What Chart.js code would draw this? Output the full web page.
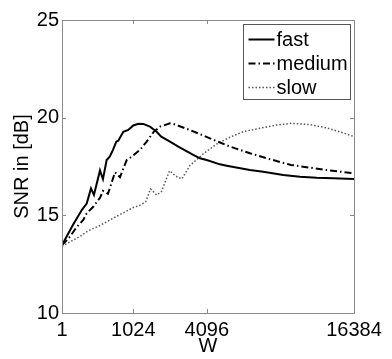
<!DOCTYPE html>
<html>
<head>
<meta charset="utf-8">
<script src="https://cdn.jsdelivr.net/npm/chart.js@4/dist/chart.umd.min.js"></script>
<style>
  html, body { margin: 0; padding: 0; background: #fff; }
  #wrap { width: 392px; height: 359px; }
</style>
</head>
<body>
<div id="wrap"><canvas id="c" width="392" height="359"></canvas></div>
<script>
// ---- data (W = window length, SNR in dB) ----
const seriesNames = ['fast', 'medium', 'slow'];

const fastW   = [1, 33, 92, 138, 185, 222, 307, 354, 417, 473, 537, 606, 649, 765, 890, 1024, 1168, 1321, 1541, 1778, 1950, 2300, 2660, 3374, 3721, 4085, 4858, 5272, 6846, 7836, 9452, 10916, 12486, 14151, 16384];
const fastSNR = [13.48, 14.5, 15.27, 15.6, 16.38, 16.04, 17.3, 16.85, 17.83, 18.0, 18.35, 18.77, 18.82, 19.28, 19.37, 19.6, 19.69, 19.68, 19.54, 19.28, 19.03, 18.77, 18.52, 18.09, 17.92, 17.83, 17.61, 17.54, 17.32, 17.23, 17.07, 16.98, 16.93, 16.9, 16.86];

const mediumW   = [1, 14, 55, 105, 138, 213, 307, 354, 441, 578, 687, 849, 980, 1219, 1431, 1657, 1902, 2300, 2439, 3209, 4270, 5482, 6846, 8100, 10116, 13477, 16384];
const mediumSNR = [13.48, 13.8, 14.4, 14.76, 15.1, 15.44, 15.9, 16.25, 16.1, 17.2, 16.95, 17.83, 18.0, 18.35, 18.77, 19.25, 19.54, 19.71, 19.68, 19.37, 18.94, 18.52, 18.18, 17.92, 17.58, 17.32, 17.15];

const slowW   = [1, 78, 150, 307, 614, 1024, 1200, 1400, 1560, 1780, 1960, 2280, 2560, 2820, 3210, 3900, 4660, 5480, 6370, 7590, 8900, 10120, 11840, 13480, 15200, 16384];
const slowSNR = [13.42, 13.92, 14.2, 14.48, 14.95, 15.4, 15.5, 15.7, 16.35, 16.04, 16.22, 17.28, 17.0, 16.86, 17.55, 18.15, 18.65, 19.0, 19.28, 19.46, 19.62, 19.71, 19.64, 19.48, 19.22, 19.03];

const xTickW = [1, 1024, 4096, 16384];
const xTickLabels = ['1', '1024', '4096', '16384'];
const yTicks = [10, 15, 20, 25];

// x axis is drawn on a square-root scale of W
const toXY = (ws, vs) => ws.map((w, i) => ({ x: Math.sqrt(w), y: vs[i] }));

const FONT = '"Liberation Sans", Arial, Helvetica, sans-serif';
const FS = 20;
const FRAME = '#8a8a8a';

const framePlugin = {
  id: 'frame',
  afterDatasetsDraw(chart) {
    const { ctx, chartArea: a, scales: { x, y } } = chart;
    ctx.save();
    ctx.strokeStyle = FRAME;
    ctx.lineWidth = 1;
    ctx.strokeRect(Math.round(a.left) + 0.5, Math.round(a.top) + 0.5,
                   Math.round(a.right - a.left), Math.round(a.bottom - a.top));
    const tl = 4;
    ctx.beginPath();
    x.ticks.forEach(t => {
      const px = Math.round(x.getPixelForValue(t.value)) + 0.5;
      ctx.moveTo(px, a.bottom); ctx.lineTo(px, a.bottom - tl);
      ctx.moveTo(px, a.top); ctx.lineTo(px, a.top + tl);
    });
    y.ticks.forEach(t => {
      const py = Math.round(y.getPixelForValue(t.value)) + 0.5;
      ctx.moveTo(a.left, py); ctx.lineTo(a.left + tl, py);
      ctx.moveTo(a.right, py); ctx.lineTo(a.right - tl, py);
    });
    ctx.stroke();

    // legend box (top-right inside the axes)
    const bw = 107, bh = 75;
    const bx = Math.round(a.right - 4 - bw) + 0.5, by = Math.round(a.top + 4) + 0.5;
    ctx.fillStyle = '#fff';
    ctx.fillRect(bx, by, bw, bh);
    ctx.strokeStyle = '#555';
    ctx.strokeRect(bx, by, bw, bh);
    ctx.font = FS + 'px ' + FONT;
    ctx.textBaseline = 'middle';
    ctx.textAlign = 'left';
    chart.data.datasets.forEach((ds, i) => {
      const ly = by + 15 + i * 24;
      ctx.beginPath();
      ctx.strokeStyle = ds.borderColor;
      ctx.lineWidth = ds.borderWidth;
      ctx.setLineDash(ds.borderDash || []);
      ctx.moveTo(bx + 5, ly); ctx.lineTo(bx + 31, ly);
      ctx.stroke();
      ctx.setLineDash([]);
      ctx.fillStyle = '#000';
      ctx.fillText(ds.label, bx + 33, ly + 1);
    });
    ctx.restore();
  }
};

new Chart(document.getElementById('c'), {
  type: 'line',
  data: {
    datasets: [
      { label: seriesNames[0], data: toXY(fastW, fastSNR), borderColor: '#000', borderWidth: 2, pointRadius: 0, tension: 0 },
      { label: seriesNames[1], data: toXY(mediumW, mediumSNR), borderColor: '#000', borderWidth: 2, borderDash: [7, 3, 1.5, 3], pointRadius: 0, tension: 0 },
      { label: seriesNames[2], data: toXY(slowW, slowSNR), borderColor: '#555', borderWidth: 1.5, borderDash: [1.5, 2], pointRadius: 0, tension: 0 }
    ]
  },
  options: {
    responsive: false,
    animation: false,
    devicePixelRatio: 1,
    layout: { padding: { top: 20, right: 38, left: 0, bottom: 0 } },
    plugins: { legend: { display: false }, tooltip: { enabled: false } },
    scales: {
      x: {
        type: 'linear',
        min: 1, max: 128,
        grid: { display: false, drawTicks: false },
        border: { display: false },
        afterBuildTicks: s => { s.ticks = xTickW.map(w => ({ value: Math.sqrt(w) })); },
        afterFit: s => { s.height = 46; },
        ticks: {
          color: '#000', font: { family: FONT, size: FS }, padding: 5, maxRotation: 0, autoSkip: false,
          callback: (v, i) => xTickLabels[i]
        },
        title: { display: true, text: 'W', color: '#000', font: { family: FONT, size: FS }, padding: { top: 0, bottom: 1 } }
      },
      y: {
        type: 'linear',
        min: 10, max: 25,
        grid: { display: false, drawTicks: false },
        border: { display: false },
        afterBuildTicks: s => { s.ticks = yTicks.map(v => ({ value: v })); },
        afterFit: s => { s.width = 62; },
        ticks: { color: '#000', font: { family: FONT, size: FS }, padding: 3 },
        title: { display: true, text: 'SNR in [dB]', color: '#000', font: { family: FONT, size: FS }, padding: { top: 10, bottom: 0 } }
      }
    }
  },
  plugins: [framePlugin]
});
</script>
</body>
</html>
